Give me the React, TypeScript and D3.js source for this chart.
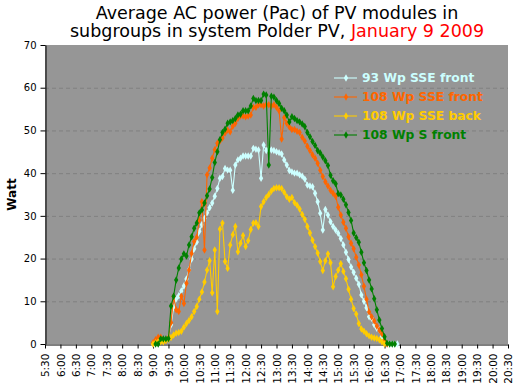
import React, { useEffect, useRef } from 'react';
import * as d3 from 'd3';

// time of day for each measurement (5 minute averages)
const times = [
  '9:00', '9:05', '9:10', '9:15', '9:20', '9:25', '9:30', '9:35', '9:40', '9:45', '9:50', '9:55',
  '10:00', '10:05', '10:10', '10:15', '10:20', '10:25', '10:30', '10:35', '10:40', '10:45', '10:50', '10:55',
  '11:00', '11:05', '11:10', '11:15', '11:20', '11:25', '11:30', '11:35', '11:40', '11:45', '11:50', '11:55',
  '12:00', '12:05', '12:10', '12:15', '12:20', '12:25', '12:30', '12:35', '12:40', '12:45', '12:50', '12:55',
  '13:00', '13:05', '13:10', '13:15', '13:20', '13:25', '13:30', '13:35', '13:40', '13:45', '13:50', '13:55',
  '14:00', '14:05', '14:10', '14:15', '14:20', '14:25', '14:30', '14:35', '14:40', '14:45', '14:50', '14:55',
  '15:00', '15:05', '15:10', '15:15', '15:20', '15:25', '15:30', '15:35', '15:40', '15:45', '15:50', '15:55',
  '16:00', '16:05', '16:10', '16:15', '16:20', '16:25', '16:30', '16:35', '16:40', '16:45', '16:50', '16:55',
  '17:00'
];

const wp93SseFront = [
  0, 0.3, 0.8, 1.0, 1.0, 1.0, 1.5, 4.5, 8.5, 10.6, 11.3, 12.4,
  13.6, 15.2, 17.4, 19.9, 22.3, 23.9, 26.4, 27.9, 29.4, 30.7, 31.9, 33.0,
  34.6, 36.4, 38.8, 39.2, 41.1, 40.7, 40.7, 36.0, 41.9, 43.1, 43.5, 44.0,
  44.0, 44.0, 44.0, 45.8, 45.6, 45.4, 38.8, 46.6, 45.3, 45.6, 45.4, 45.3,
  45.0, 44.8, 44.5, 43.1, 41.9, 40.6, 40.3, 40.0, 40.0, 39.6, 39.3, 38.6,
  37.2, 37.0, 36.8, 35.3, 33.3, 30.6, 26.7, 31.5, 30.2, 28.6, 27.5, 26.7,
  25.9, 24.7, 23.2, 21.5, 19.8, 18.0, 16.8, 15.4, 14.0, 11.5, 10.0, 8.5,
  6.4, 6.0, 4.5, 3.7, 3.3, 1.7, 0.9, 0.2, 0, 0, 0, 0,
  null
];

const wp108SseFront = [
  0.3, 1.0, 1.6, 1.6, 0.8, 0.8, 1.5, 5.0, 11.1, 8.0, 7.6, 11.2,
  9.5, 14.2, 17.3, 21.2, 24.0, 25.0, 29.0, 33.3, 22.0, 39.6, 41.2, 43.5,
  45.5, 47.0, 47.5, 48.2, 49.4, 50.1, 49.7, 51.0, 51.7, 52.8, 53.4, 53.4,
  53.2, 53.4, 53.6, 55.4, 55.4, 56.0, 56.0, 55.7, 56.0, 56.0, 55.7, 56.0,
  55.4, 54.6, 48.0, 53.0, 51.7, 50.8, 50.2, 50.2, 49.8, 49.5, 48.4, 47.5,
  46.3, 45.3, 44.3, 43.5, 42.3, 40.7, 39.2, 38.0, 37.0, 36.0, 35.3, 34.6,
  32.0, 30.2, 28.5, 27.1, 25.1, 23.6, 22.3, 20.3, 18.5, 16.2, 13.5, 10.5,
  7.5, 6.4, 5.4, 4.2, 3.2, 2.4, 0.8, 0, null, null, null, null,
  null
];

const wp108SseBack = [
  0, 0.3, 0.5, 0.5, 0.5, 0.8, 1.1, 1.5, 2.1, 2.5, 2.7, 3.0,
  3.9, 4.8, 5.5, 6.4, 7.6, 8.8, 10.5, 12.2, 14.5, 17.3, 19.5, 12.0,
  22.0, 7.6, 26.9, 28.3, 19.3, 17.7, 23.2, 25.6, 27.5, 21.6, 23.6, 25.4,
  22.8, 24.2, 26.8, 28.3, 28.4, 27.5, 32.2, 33.3, 34.3, 35.0, 35.8, 36.4,
  36.6, 36.6, 36.4, 35.5, 34.5, 33.9, 34.3, 33.1, 32.5, 31.6, 30.3, 29.2,
  27.5, 26.0, 24.3, 22.8, 21.3, 19.3, 17.2, 19.5, 21.1, 19.0, 13.4, 15.8,
  17.3, 18.8, 17.0, 15.3, 12.8, 10.5, 8.3, 7.0, 4.8, 3.5, 3.0, 2.4,
  1.9, 1.6, 1.4, 1.3, 1.0, 0.5, 0, null, null, null, null, null,
  null
];

const wp108SFront = [
  null, 0, 0, 1.2, 1.2, 1.2, 1.3, 8.9, 11.2, 15.0, 17.8, 19.9,
  21.1, 20.6, 23.2, 25.1, 27.1, 28.3, 30.7, 31.4, 33.0, 34.7, 36.3, 39.0,
  42.5, 45.0, 47.8, 49.5, 50.3, 51.7, 52.0, 52.3, 52.8, 53.6, 53.8, 54.6,
  54.6, 54.6, 55.7, 57.5, 57.0, 57.0, 57.0, 58.5, 58.3, 41.9, 58.0, 57.8,
  57.0, 56.3, 55.2, 54.6, 53.6, 52.0, 53.2, 52.8, 52.3, 52.0, 51.5, 50.9,
  49.5, 48.5, 47.4, 46.5, 45.3, 44.7, 43.8, 42.9, 41.8, 39.5, 38.2, 37.5,
  35.2, 34.9, 33.9, 32.6, 30.8, 28.9, 26.0, 24.9, 23.8, 21.5, 19.0, 17.2,
  15.0, 12.9, 10.6, 8.0, 5.6, 3.6, 1.7, 0.2, 0, 0, 0, null,
  null
];

const seriesNames = ['93 Wp SSE front', '108 Wp SSE front', '108 Wp SSE back', '108 Wp S front'];
const seriesValues = [wp93SseFront, wp108SseFront, wp108SseBack, wp108SFront];
const seriesColors = ['#ccffff', '#ff6600', '#ffcc00', '#008000'];

const yTicks = [0, 10, 20, 30, 40, 50, 60, 70];
const xTickLabels = [
  '5:30', '6:00', '6:30', '7:00', '7:30', '8:00', '8:30', '9:00', '9:30', '10:00', '10:30',
  '11:00', '11:30', '12:00', '12:30', '13:00', '13:30', '14:00', '14:30', '15:00', '15:30',
  '16:00', '16:30', '17:00', '17:30', '18:00', '18:30', '19:00', '19:30', '20:00', '20:30'
];

const toMinutes = (t: string) => {
  const [h, m] = t.split(':').map(Number);
  return h * 60 + m;
};

export default function App() {
  const ref = useRef<SVGSVGElement>(null);
  const width = 521;
  const height = 391;
  const plot = { left: 45, right: 508, top: 45, bottom: 344 };

  useEffect(() => {
    const svg = d3.select(ref.current);
    svg.selectAll('*').remove();
    const font = 'DejaVu Sans, Verdana, sans-serif';

    const x = d3.scaleLinear()
      .domain([toMinutes(xTickLabels[0]), toMinutes(xTickLabels[xTickLabels.length - 1])])
      .range([plot.left, plot.right]);
    const y = d3.scaleLinear()
      .domain([0, 70])
      .range([plot.bottom, plot.top]);

    svg.append('rect')
      .attr('width', width).attr('height', height).attr('fill', '#ffffff');
    svg.append('rect')
      .attr('x', plot.left).attr('y', plot.top)
      .attr('width', plot.right - plot.left).attr('height', plot.bottom - plot.top)
      .attr('fill', '#969696');

    // dashed gridlines
    svg.append('g')
      .selectAll('line')
      .data(yTicks.filter(d => d > 0 && d < 70))
      .join('line')
      .attr('x1', plot.left).attr('x2', plot.right)
      .attr('y1', d => y(d) + 0.5).attr('y2', d => y(d) + 0.5)
      .attr('stroke', '#808080')
      .attr('stroke-dasharray', '4,3');

    // y axis
    const yAxis = svg.append('g')
      .attr('transform', `translate(${plot.left + 0.5},0)`)
      .call(d3.axisLeft(y).tickValues(yTicks).tickSize(5).tickSizeOuter(0).tickPadding(4));
    yAxis.select('.domain').attr('stroke', '#000');
    yAxis.selectAll('text').attr('font-family', font).attr('font-size', 10).attr('fill', '#000');

    // x axis
    const xAxis = svg.append('g')
      .attr('transform', `translate(0,${plot.bottom + 0.5})`)
      .call(d3.axisBottom(x).tickValues(xTickLabels.map(toMinutes)).tickSize(4).tickSizeOuter(0)
        .tickFormat((d, i) => xTickLabels[i]));
    xAxis.select('.domain').attr('stroke', '#000');
    xAxis.selectAll('text')
      .attr('font-family', font).attr('font-size', 10.5).attr('fill', '#000')
      .attr('transform', 'rotate(-90)')
      .attr('text-anchor', 'end')
      .attr('x', -9).attr('y', 0).attr('dy', '0.35em');

    // series, drawn in legend order
    const line = d3.line<number | null>()
      .defined(d => d != null)
      .x((d, i) => x(toMinutes(times[i])))
      .y(d => y(d as number));

    const symbol = d3.symbol().type(d3.symbolDiamond).size(16);

    seriesValues.forEach((vals, s) => {
      const g = svg.append('g');
      g.append('path')
        .datum(vals)
        .attr('d', line)
        .attr('fill', 'none')
        .attr('stroke', seriesColors[s])
        .attr('stroke-width', 1.1);
      g.selectAll('path.pt')
        .data(vals.map((v, i) => ({ v, t: times[i] })).filter(d => d.v != null))
        .join('path')
        .attr('class', 'pt')
        .attr('d', symbol)
        .attr('transform', d => `translate(${x(toMinutes(d.t))},${y(d.v as number)})`)
        .attr('fill', seriesColors[s]);
    });

    // legend
    const legend = svg.append('g').attr('transform', 'translate(334,78)');
    seriesNames.forEach((name, i) => {
      const row = legend.append('g').attr('transform', `translate(0,${i * 19})`);
      row.append('line')
        .attr('x1', 0).attr('x2', 23).attr('y1', 0).attr('y2', 0)
        .attr('stroke', seriesColors[i]).attr('stroke-width', 1.1);
      row.append('path')
        .attr('d', symbol)
        .attr('transform', 'translate(12,0)')
        .attr('fill', seriesColors[i]);
      row.append('text')
        .attr('x', 28).attr('y', 0).attr('dy', '0.36em')
        .attr('font-family', font).attr('font-size', 12.3).attr('font-weight', 'bold')
        .attr('fill', seriesColors[i])
        .text(name);
    });

    // y axis title
    svg.append('text')
      .attr('transform', `translate(16,${(plot.top + plot.bottom) / 2}) rotate(-90)`)
      .attr('text-anchor', 'middle')
      .attr('font-family', font).attr('font-size', 12).attr('font-weight', 'bold')
      .text('Watt');

    // title
    const title = svg.append('text')
      .attr('text-anchor', 'middle')
      .attr('font-family', font).attr('font-size', 17.5);
    title.append('tspan').attr('x', 277).attr('y', 19)
      .text('Average AC power (Pac) of PV modules in');
    const line2 = title.append('tspan').attr('x', 277).attr('y', 37);
    line2.append('tspan').text('subgroups in system Polder PV, ');
    line2.append('tspan').attr('fill', '#ff0000').text('January 9 2009');
  }, []);

  return (
    <svg ref={ref} width={width} height={height}
      style={{ position: 'absolute', left: 0, top: 0, display: 'block' }} />
  );
}
